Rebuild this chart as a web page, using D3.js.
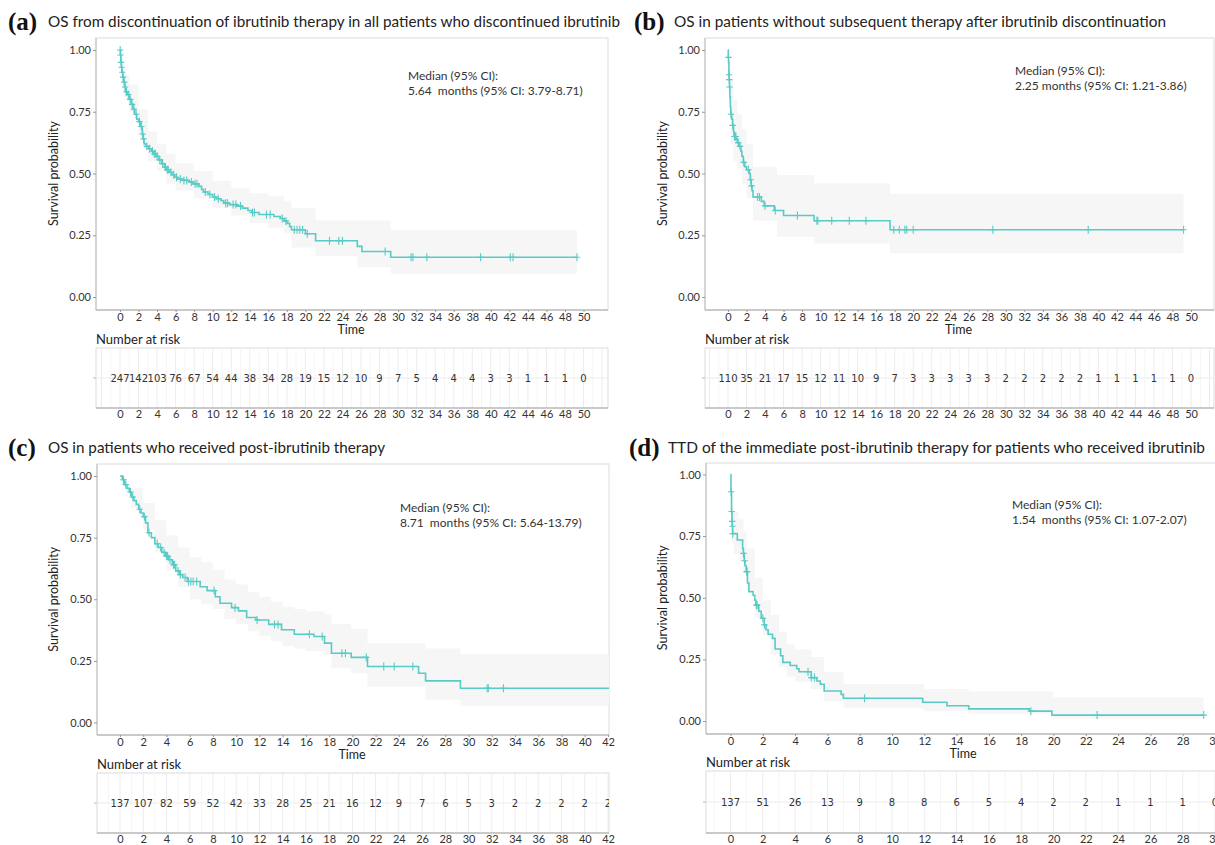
<!DOCTYPE html>
<html>
<head>
<meta charset="utf-8">
<script src="https://cdn.jsdelivr.net/npm/d3@7"></script>
<style>
  body { margin: 0; background: #fff; }
  text { font-family: Lato, "Open Sans", sans-serif; }
</style>
</head>
<body>
<script>
// ---- panel (a): OS from discontinuation, all patients ----
const aSteps = [[0,1],[0.05,0.98],[0.1,0.95],[0.15,0.93],[0.2,0.91],[0.3,0.89],[0.4,0.87],[0.5,0.85],[0.6,0.83],[0.8,0.82],[1.0,0.80],[1.2,0.78],[1.4,0.76],[1.6,0.74],[1.8,0.72],[2.0,0.71],[2.2,0.69],[2.4,0.66],[2.5,0.64],[2.6,0.62],[2.8,0.61],[3.1,0.60],[3.4,0.59],[3.6,0.58],[3.9,0.57],[4.2,0.555],[4.5,0.54],[4.8,0.525],[5.0,0.515],[5.3,0.505],[5.6,0.495],[5.9,0.485],[6.2,0.478],[6.8,0.472],[7.4,0.466],[7.9,0.458],[8.5,0.448],[8.8,0.435],[9.0,0.425],[9.5,0.415],[10.0,0.405],[10.4,0.398],[10.9,0.39],[11.2,0.38],[11.8,0.374],[12.6,0.368],[13.2,0.36],[13.8,0.35],[14.2,0.342],[15.0,0.334],[16.6,0.326],[17.3,0.318],[17.7,0.308],[18.0,0.298],[18.3,0.285],[18.5,0.272],[20.0,0.256],[21.1,0.228],[25.6,0.205],[26.1,0.184],[29.2,0.161],[49.3,0.161]];
const aCensor = [0.02,0.06,0.12,0.18,0.25,0.33,0.45,0.55,0.7,0.9,1.1,1.3,1.5,1.75,2.1,2.3,2.45,2.55,2.9,3.2,3.5,3.7,3.8,4.0,4.3,4.6,4.9,5.1,5.2,5.5,5.8,6.1,6.5,6.9,7.2,7.7,8.1,8.3,9.2,9.7,10.2,10.6,11.4,11.6,12.2,12.5,13.0,14.3,14.5,15.8,16.2,17.5,17.9,18.8,19.1,19.4,19.7,20.2,22.6,23.6,24.0,28.6,31.4,31.6,33.1,38.9,42.1,42.4,49.3];
const aCiTime  = [0,0.5,1,2,3,4,5,6,8,10,12,14,16,17.7,18.5,21.1,25.6,29.2,49.3];
const aCiUpper = [1.0,0.90,0.86,0.76,0.67,0.62,0.58,0.54,0.51,0.47,0.44,0.42,0.41,0.39,0.36,0.31,0.31,0.27,0.27];
const aCiLower = [1.0,0.80,0.75,0.65,0.55,0.51,0.46,0.43,0.40,0.36,0.33,0.30,0.28,0.26,0.20,0.165,0.12,0.095,0.095];
const aRisk = [247,142,103,76,67,54,44,38,34,28,19,15,12,10,9,7,5,4,4,4,3,3,1,1,1,0];

// ---- panel (b): OS without subsequent therapy ----
const bSteps = [[0,1],[0.03,0.97],[0.06,0.95],[0.1,0.90],[0.13,0.88],[0.16,0.85],[0.2,0.81],[0.25,0.77],[0.3,0.74],[0.4,0.72],[0.5,0.695],[0.6,0.67],[0.65,0.65],[0.9,0.64],[1.0,0.625],[1.2,0.61],[1.4,0.59],[1.5,0.57],[1.65,0.545],[1.8,0.528],[2.0,0.515],[2.3,0.50],[2.4,0.475],[2.5,0.45],[2.6,0.43],[2.7,0.405],[3.6,0.387],[3.9,0.369],[5.0,0.35],[6.0,0.33],[9.3,0.309],[17.5,0.272],[49.2,0.272]];
const bCensor = [0.05,0.12,0.14,0.18,0.32,0.5,0.7,0.8,0.85,1.1,1.3,1.7,2.2,2.45,2.55,3.2,3.4,4.0,5.1,7.5,9.6,9.7,11.2,13.1,14.9,17.9,18.5,19.1,19.3,20.0,28.6,38.9,49.2];
const bCiTime  = [0,0.3,0.6,1.0,1.5,2.0,2.7,5.3,9.3,17.5,49.2];
const bCiUpper = [1.0,0.88,0.80,0.74,0.68,0.62,0.527,0.494,0.46,0.417,0.417];
const bCiLower = [1.0,0.62,0.55,0.52,0.46,0.40,0.31,0.244,0.217,0.177,0.177];
const bRisk = [110,35,21,17,15,12,11,10,9,7,3,3,3,3,3,2,2,2,2,2,1,1,1,1,1,0];

// ---- panel (c): OS with post-ibrutinib therapy ----
const cSteps = [[0,1],[0.2,0.985],[0.4,0.965],[0.6,0.95],[0.8,0.935],[1.0,0.915],[1.2,0.90],[1.4,0.885],[1.6,0.865],[1.8,0.85],[2.0,0.835],[2.2,0.81],[2.4,0.77],[2.7,0.75],[3.0,0.725],[3.3,0.71],[3.6,0.69],[3.9,0.675],[4.2,0.66],[4.5,0.64],[4.8,0.615],[5.1,0.60],[5.4,0.588],[5.8,0.572],[6.9,0.551],[7.5,0.535],[8.2,0.51],[8.6,0.484],[9.6,0.466],[10.2,0.453],[10.9,0.426],[11.7,0.416],[12.8,0.398],[13.9,0.376],[15.0,0.358],[16.7,0.349],[17.6,0.322],[18.2,0.281],[19.9,0.264],[21.3,0.227],[25.7,0.200],[26.3,0.169],[29.3,0.139],[43,0.139]];
const cCensor = [0.3,0.5,0.9,1.1,1.7,2.1,2.5,3.2,3.5,3.8,4.0,4.1,4.3,4.6,4.7,5.0,5.2,5.6,5.9,6.1,6.3,6.6,8.1,9.9,11.8,13.3,13.6,16.3,17.4,19.1,19.4,21.2,22.7,23.6,25.2,31.6,31.7,33.0];
const cCiTime  = [0,1,2,3,4,5,6,7,8,9,10,11,12,13,14,15,16,17.6,18.2,19.9,21.3,25.7,26.3,29.3,43];
const cCiUpper = [1.0,0.95,0.89,0.82,0.76,0.71,0.67,0.65,0.62,0.58,0.56,0.53,0.51,0.49,0.47,0.46,0.45,0.44,0.40,0.38,0.32,0.32,0.30,0.277,0.277];
const cCiLower = [1.0,0.87,0.78,0.69,0.62,0.55,0.50,0.48,0.46,0.42,0.40,0.37,0.35,0.33,0.31,0.30,0.29,0.274,0.22,0.20,0.146,0.146,0.092,0.068,0.068];
const cRisk = [137,107,82,59,52,42,33,28,25,21,16,12,9,7,6,5,3,2,2,2,2,2];

// ---- panel (d): TTD of immediate post-ibrutinib therapy ----
const dSteps = [[0,1],[0.03,0.93],[0.06,0.85],[0.09,0.81],[0.11,0.79],[0.13,0.76],[0.42,0.734],[0.75,0.70],[0.8,0.68],[0.85,0.65],[0.9,0.63],[0.97,0.606],[1.05,0.56],[1.14,0.525],[1.4,0.51],[1.5,0.49],[1.57,0.47],[1.75,0.445],[1.9,0.417],[2.09,0.39],[2.2,0.37],[2.33,0.352],[2.6,0.335],[2.76,0.292],[3.1,0.265],[3.24,0.238],[3.7,0.225],[4.1,0.212],[4.24,0.2],[5.0,0.176],[5.35,0.162],[5.56,0.149],[5.8,0.122],[6.85,0.108],[6.99,0.092],[11.9,0.076],[13.4,0.062],[14.75,0.049],[18.5,0.04],[19.9,0.024],[29.3,0.024]];
const dCensor = [0.04,0.07,0.1,0.12,0.14,0.8,0.87,1.0,1.03,1.6,1.65,2.0,2.1,4.8,5.0,5.2,8.3,18.6,22.7,29.3];
const dCiTime  = [0,0.1,0.2,0.5,0.8,1.0,1.5,2.0,2.5,3.0,3.5,4.0,5.0,5.8,7.0,12,14.75,20,29.3];
const dCiUpper = [1.0,0.93,0.85,0.82,0.77,0.70,0.58,0.49,0.43,0.36,0.31,0.29,0.26,0.20,0.15,0.13,0.12,0.095,0.095];
const dCiLower = [1.0,0.72,0.68,0.65,0.60,0.53,0.42,0.35,0.27,0.22,0.18,0.16,0.13,0.08,0.052,0.04,0.03,0.01,0.01];
const dRisk = [137,51,26,13,9,8,8,6,5,4,2,2,1,1,1,0];

const titles = [
  "OS from discontinuation of ibrutinib therapy in all patients who discontinued ibrutinib",
  "OS in patients without subsequent therapy after ibrutinib discontinuation",
  "OS in patients who received post-ibrutinib therapy",
  "TTD of the immediate post-ibrutinib therapy for patients who received ibrutinib"
];
const letters = ["(a)", "(b)", "(c)", "(d)"];
const medians = [
  "5.64  months (95% CI: 3.79-8.71)",
  "2.25 months (95% CI: 1.21-3.86)",
  "8.71  months (95% CI: 5.64-13.79)",
  "1.54  months (95% CI: 1.07-2.07)"
];
const yTicks = [0, 0.25, 0.5, 0.75, 1];

const lineColor = "#58cbc6";

const svg = d3.select("body").append("svg")
  .attr("width", 1215)
  .attr("height", 845);

// layout of each panel (pixels)
const panels = [
  { steps: aSteps, censor: aCensor, ciT: aCiTime, ciU: aCiUpper, ciL: aCiLower, risk: aRisk,
    xMax: 50, xr: [120, 583.5], boxL: 96, boxR: 608, top: 38, bot: 310, y0: 297, y1: 50,
    riskTop: 348, riskBot: 408, letterX: 8, titleX: 48, titleW: 572, titleY: 27,
    medX: 408, medY: 80, ylabX: 58 },
  { steps: bSteps, censor: bCensor, ciT: bCiTime, ciU: bCiUpper, ciL: bCiLower, risk: bRisk,
    xMax: 50, xr: [728, 1191], boxL: 705, boxR: 1214, top: 38, bot: 310, y0: 297, y1: 50,
    riskTop: 348, riskBot: 408, letterX: 634, titleX: 674, titleW: 492, titleY: 27,
    medX: 1015, medY: 75, ylabX: 667 },
  { steps: cSteps, censor: cCensor, ciT: cCiTime, ciU: cCiUpper, ciL: cCiLower, risk: cRisk,
    xMax: 42, xr: [120, 608], boxL: 97, boxR: 609, top: 464, bot: 735, y0: 722.5, y1: 476,
    riskTop: 773, riskBot: 833, letterX: 8, titleX: 48, titleW: 337, titleY: 453,
    medX: 400, medY: 512, ylabX: 58 },
  { steps: dSteps, censor: dCensor, ciT: dCiTime, ciU: dCiUpper, ciL: dCiLower, risk: dRisk,
    xMax: 30, xr: [730.5, 1215], boxL: 706, boxR: 1222, top: 463, bot: 734, y0: 721, y1: 474.5,
    riskTop: 771, riskBot: 833, letterX: 629, titleX: 668, titleW: 537, titleY: 453,
    medX: 1012, medY: 509, ylabX: 667 }
];

panels.forEach((p, i) => {
  const g = svg.append("g");
  const x = d3.scaleLinear().domain([0, p.xMax]).range(p.xr);
  const y = d3.scaleLinear().domain([0, 1]).range([p.y0, p.y1]);
  const xTicks = d3.range(0, p.xMax + 1, 2);

  // title
  g.append("text")
    .attr("x", p.letterX).attr("y", p.titleY + 3)
    .style("font-family", "'Liberation Serif', serif")
    .style("font-weight", "bold")
    .style("font-size", "25px")
    .attr("fill", "#111")
    .text(letters[i]);
  g.append("text")
    .attr("x", p.titleX).attr("y", p.titleY)
    .attr("textLength", p.titleW)
    .attr("lengthAdjust", "spacingAndGlyphs")
    .style("font-size", "16px")
    .attr("fill", "#222")
    .text(titles[i]);

  // clip for the plot area
  const clipId = "clip" + i;
  svg.append("clipPath").attr("id", clipId)
    .append("rect")
    .attr("x", p.boxL).attr("y", p.top)
    .attr("width", p.boxR - p.boxL).attr("height", p.bot - p.top);

  // panel border
  g.append("rect")
    .attr("x", p.boxL).attr("y", p.top)
    .attr("width", p.boxR - p.boxL).attr("height", p.bot - p.top)
    .attr("fill", "#fff")
    .attr("stroke", "#dcdcdc");

  const inner = g.append("g").attr("clip-path", `url(#${clipId})`);

  // confidence band
  const ci = p.ciT.map((t, k) => ({ t: t, lo: p.ciL[k], hi: p.ciU[k] }));
  inner.append("path")
    .datum(ci)
    .attr("fill", "#f6f6f6")
    .attr("d", d3.area()
      .curve(d3.curveStepAfter)
      .x(d => x(d.t))
      .y0(d => y(d.lo))
      .y1(d => y(d.hi)));

  // survival curve
  inner.append("path")
    .datum(p.steps)
    .attr("fill", "none")
    .attr("stroke", lineColor)
    .attr("stroke-width", 1.6)
    .attr("d", d3.line()
      .curve(d3.curveStepAfter)
      .x(d => x(d[0]))
      .y(d => y(d[1])));

  // censor marks
  const survAt = t => {
    let s = 1;
    p.steps.forEach(d => { if (d[0] <= t) s = d[1]; });
    return s;
  };
  inner.selectAll(".cens")
    .data(p.censor)
    .join("path")
    .attr("fill", "none")
    .attr("stroke", lineColor)
    .attr("stroke-width", 1.1)
    .attr("d", t => {
      const cx = x(t), cy = y(survAt(t));
      return `M${cx - 3.2},${cy}H${cx + 3.2}M${cx},${cy - 4}V${cy + 4}`;
    });

  // axes lines
  g.append("line")
    .attr("x1", p.boxL).attr("x2", p.boxL)
    .attr("y1", p.top).attr("y2", p.bot)
    .attr("stroke", "#bdbdbd");
  g.append("line")
    .attr("x1", p.boxL).attr("x2", p.boxR)
    .attr("y1", p.bot).attr("y2", p.bot)
    .attr("stroke", "#bdbdbd").attr("stroke-width", 1.3);

  // y axis
  const yAxis = g.append("g")
    .attr("transform", `translate(${p.boxL},0)`)
    .call(d3.axisLeft(y).tickValues(yTicks).tickFormat(d3.format(".2f")).tickSize(3).tickPadding(2));
  yAxis.select(".domain").remove();

  // x axis
  const xAxis = g.append("g")
    .attr("transform", `translate(0,${p.bot})`)
    .call(d3.axisBottom(x).tickValues(xTicks).tickSize(2).tickPadding(1));
  xAxis.select(".domain").remove();

  [yAxis, xAxis].forEach(ax => {
    ax.selectAll("line").attr("stroke", "#999");
    ax.selectAll("text")
      .style("font-family", "Lato, sans-serif")
      .style("font-size", "11px")
      .attr("fill", "#333");
  });

  // axis titles
  g.append("text")
    .attr("transform", `translate(${p.ylabX},${(p.y0 + p.y1) / 2}) rotate(-90)`)
    .attr("text-anchor", "middle")
    .style("font-size", "12.5px")
    .attr("fill", "#222")
    .text("Survival probability");
  g.append("text")
    .attr("x", (p.boxL + p.boxR) / 2 - 1)
    .attr("y", p.bot + 24)
    .attr("text-anchor", "middle")
    .style("font-size", "12.5px")
    .attr("fill", "#222")
    .text("Time");

  // median annotation
  g.append("text")
    .attr("x", p.medX).attr("y", p.medY)
    .style("font-size", "12px")
    .attr("fill", "#333")
    .text("Median (95% CI):");
  g.append("text")
    .attr("x", p.medX).attr("y", p.medY + 15)
    .style("font-size", "12px")
    .style("white-space", "pre")
    .attr("fill", "#333")
    .text(medians[i]);

  // ---- number at risk table ----
  g.append("text")
    .attr("x", p.boxL).attr("y", p.riskTop - 4)
    .style("font-size", "13px")
    .attr("fill", "#222")
    .text("Number at risk");

  const rClip = "rclip" + i;
  svg.append("clipPath").attr("id", rClip)
    .append("rect")
    .attr("x", p.boxL).attr("y", p.riskTop)
    .attr("width", p.boxR - p.boxL).attr("height", p.riskBot - p.riskTop);

  g.append("rect")
    .attr("x", p.boxL).attr("y", p.riskTop)
    .attr("width", p.boxR - p.boxL).attr("height", p.riskBot - p.riskTop)
    .attr("fill", "#fff")
    .attr("stroke", "#dcdcdc");

  const rg = g.append("g").attr("clip-path", `url(#${rClip})`);
  const riskMid = (p.riskTop + p.riskBot) / 2;

  // grid: minor each month, major each 2 months
  const gridT = d3.range(-2, p.xMax + 3, 1);
  rg.selectAll(".grid")
    .data(gridT)
    .join("line")
    .attr("x1", d => x(d)).attr("x2", d => x(d))
    .attr("y1", p.riskTop).attr("y2", p.riskBot)
    .attr("stroke", d => d % 2 === 0 ? "#ececec" : "#f5f5f5");
  rg.append("line")
    .attr("x1", p.boxL).attr("x2", p.boxR)
    .attr("y1", riskMid).attr("y2", riskMid)
    .attr("stroke", "#ececec");

  rg.selectAll(".risk")
    .data(p.risk)
    .join("text")
    .attr("x", (d, k) => x(xTicks[k]))
    .attr("y", riskMid)
    .attr("dy", "0.35em")
    .attr("text-anchor", "middle")
    .style("font-family", "'DejaVu Sans', sans-serif")
    .style("font-size", "10px")
    .attr("fill", "#333")
    .text(d => d);

  // left tick of the risk table
  g.append("line")
    .attr("x1", p.boxL - 3).attr("x2", p.boxL)
    .attr("y1", riskMid).attr("y2", riskMid)
    .attr("stroke", "#bbb");

  g.append("line")
    .attr("x1", p.boxL).attr("x2", p.boxR)
    .attr("y1", p.riskBot).attr("y2", p.riskBot)
    .attr("stroke", "#bdbdbd").attr("stroke-width", 1.5);

  const rAxis = g.append("g")
    .attr("transform", `translate(0,${p.riskBot})`)
    .call(d3.axisBottom(x).tickValues(xTicks).tickSize(0).tickPadding(2));
  rAxis.select(".domain").remove();
  rAxis.selectAll("text")
    .style("font-family", "Lato, sans-serif")
    .style("font-size", "11px")
    .attr("fill", "#333");
});
</script>
</body>
</html>
